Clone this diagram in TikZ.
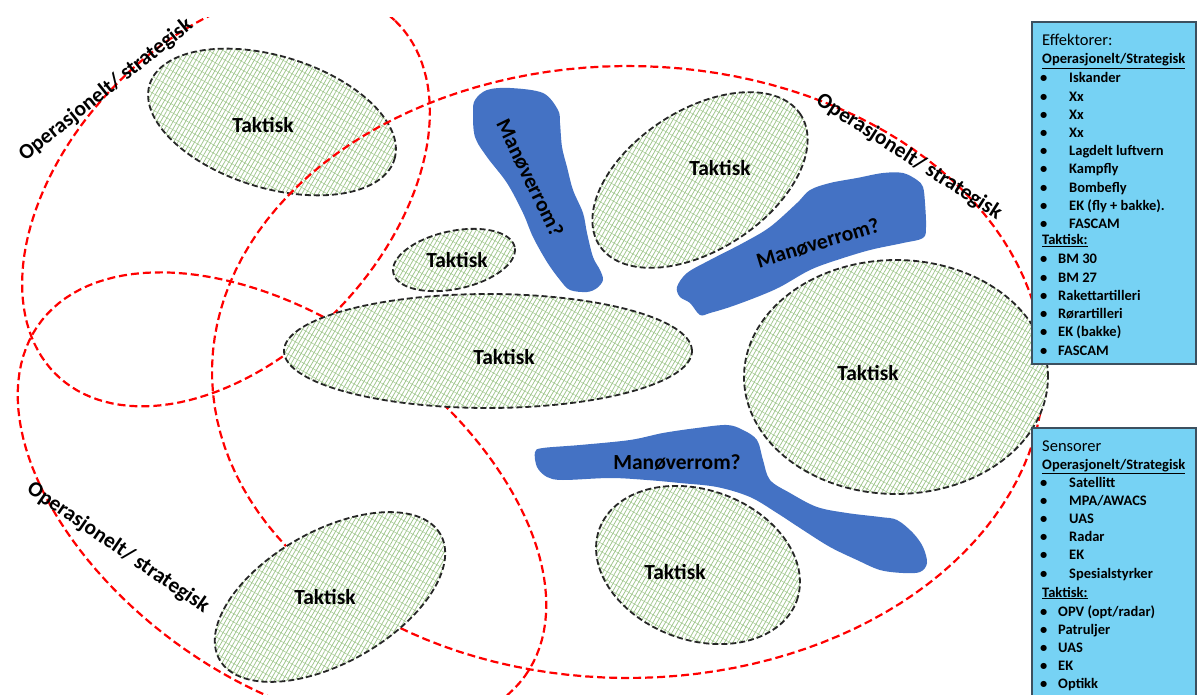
\documentclass[tikz,border=0pt]{standalone}
\usepackage{fontspec}
\setmainfont{Carlito}
\usetikzlibrary{patterns.meta}
\definecolor{patgreen}{RGB}{158,198,138}
\definecolor{blobblue}{RGB}{68,114,196}
\definecolor{boxblue}{RGB}{118,210,244}
\definecolor{boxedge}{RGB}{60,80,95}
\newcommand{\tellipse}[6]{%
  \path[#6] plot[domain=0:360,samples=140,variable=\ang] ({#1+(#3)*cos(\ang)*cos(#5)-(#4)*sin(\ang)*sin(#5)},{#2-(#3)*cos(\ang)*sin(#5)-(#4)*sin(\ang)*cos(#5)}) -- cycle;}
\tikzset{
  redell/.style={draw=red, line width=2.2pt, dash pattern=on 8pt off 4pt},
  tak/.style={preaction={fill=white},
    preaction={pattern={Lines[angle=60,distance=3.6pt,line width=0.75pt]}, pattern color=patgreen},
    preaction={pattern={Lines[angle=-30,distance=7.2pt,line width=0.45pt]}, pattern color=patgreen},
    draw=black!85, line width=1.8pt, dash pattern=on 6pt off 3pt},
  lbl/.style={font=\fontsize{21.5}{24}\selectfont\bfseries, inner sep=0pt},
  blob/.style={fill=blobblue},
  boxtxt/.style={font=\fontsize{14.5}{17}\selectfont\bfseries, anchor=base west, inner sep=0pt},
  boxhead/.style={font=\fontsize{16.5}{19}\selectfont, anchor=base west, inner sep=0pt},
  infobox/.style={draw=boxedge, fill=boxblue, line width=1.2pt}
}
\begin{document}
\begin{tikzpicture}[x=1pt,y=-1pt]
\useasboundingbox (0,0) rectangle (1197,695);
\fill[white] (0,0) rectangle (1197,695);

% top-left tactical area (under the red lines)
\tellipse{272}{122}{128}{66}{-17}{tak}

% operational / strategic areas
\begin{scope}
  \clip (0,18) rectangle (1197,695);
  \tellipse{226}{198}{245}{158}{46.5}{redell}
  \tellipse{282}{500}{300}{178}{-36}{redell}
  \tellipse{628}{372}{416}{306}{0}{redell}
\end{scope}

% other tactical areas
\tellipse{454}{260}{62}{29}{12}{tak}
\tellipse{488}{351}{204}{57}{0}{tak}
\tellipse{700}{180}{120}{70}{33}{tak}
\tellipse{896}{377}{152}{117}{0}{tak}
\tellipse{698}{565}{105}{75}{-20}{tak}
\tellipse{330}{597}{127}{66}{29.5}{tak}

% manoeuvre spaces
\fill[blob] plot[smooth cycle, tension=0.55] coordinates {(475,100) (487,90) (510,88) (543,93) (558,110) (560,123) (562,147) (567,167) (573,190) (583,213) (587,233) (593,257) (600,270) (603,280) (597,288) (587,292) (570,290) (560,280) (547,262) (533,237) (523,213) (507,183) (487,157) (475,137) (473,113)};
\fill[blob] plot[smooth cycle, tension=0.55] coordinates {(677,287) (687,273) (710,260) (743,243) (770,227) (797,203) (810,190) (830,183) (857,178) (883,173) (903,173) (917,180) (923,187) (925,203) (926,227) (923,238) (903,243) (870,250) (837,260) (810,270) (780,287) (757,297) (730,307) (710,313) (700,315) (690,303) (680,297)};
\fill[blob] plot[smooth cycle, tension=0.55] coordinates {(535,452) (543,448) (580,445) (630,440) (663,433) (697,428) (727,425) (743,430) (757,440) (763,460) (770,480) (790,493) (817,507) (847,513) (880,517) (897,520) (913,533) (923,547) (927,563) (920,572) (903,573) (880,570) (857,560) (830,547) (803,530) (777,513) (750,497) (717,487) (680,483) (647,480) (610,478) (563,480) (547,477) (537,467)};

% labels
\node[lbl] (t1) at (263,125) {Taktisk};
\node[lbl] (t2) at (457,260) {Taktisk};
\node[lbl] (t3) at (504,357) {Taktisk};
\node[lbl] (t4) at (720,168) {Taktisk};
\node[lbl] (t5) at (868,373) {Taktisk};
\node[lbl] (t6) at (675,572) {Taktisk};
\node[lbl] (t7) at (325,597) {Taktisk};
\node[lbl, rotate=-64] (m1) at (530,178) {Manøverrom?};
\node[lbl, rotate=17] (m2) at (818,243) {Manøverrom?};
\node[lbl] (m3) at (677,462) {Manøverrom?};
\node[lbl, rotate=38.5] (os1) at (106,90) {Operasjonelt/ strategisk};
\node[lbl, rotate=-34.4] (os2) at (118,548) {Operasjonelt/ strategisk};
\node[lbl, rotate=-32.5] (os3) at (909,157) {Operasjonelt/ strategisk};

% effectors box
\draw[infobox] (1032,22) rectangle (1196,364);
\node[boxhead] (eh) at (1042,46) {Effektorer:};
\node[boxtxt] (eo) at (1042,64) {\underline{Operasjonelt/Strategisk}};
\foreach \itm [count=\i from 0] in {Iskander,Xx,Xx,Xx,Lagdelt luftvern,Kampfly,Bombefly,EK (fly + bakke).,FASCAM}{
  \node[boxtxt] (eb\i) at (1040,{83+18.2*\i}) {\textbullet};
  \node[boxtxt] (es\i) at (1069,{83+18.2*\i}) {\itm};
}
\node[boxtxt] (et) at (1042,245) {\underline{Taktisk:}};
\foreach \itm [count=\i from 0] in {BM 30,BM 27,Rakettartilleri,Rørartilleri,EK (bakke),FASCAM}{
  \node[boxtxt] (ec\i) at (1040,{264+18.2*\i}) {\textbullet};
  \node[boxtxt] (et\i) at (1058,{264+18.2*\i}) {\itm};
}

% sensors box
\draw[infobox] (1032,428) rectangle (1196,702);
\node[boxhead] (sh) at (1042,451) {Sensorer};
\node[boxtxt] (so) at (1042,469) {\underline{Operasjonelt/Strategisk}};
\foreach \itm [count=\i from 0] in {Satellitt,MPA/AWACS,UAS,Radar,EK,Spesialstyrker}{
  \node[boxtxt] (sb\i) at (1040,{487+18.2*\i}) {\textbullet};
  \node[boxtxt] (ss\i) at (1069,{487+18.2*\i}) {\itm};
}
\node[boxtxt] (st) at (1042,597) {\underline{Taktisk:}};
\foreach \itm [count=\i from 0] in {OPV (opt/radar),Patruljer,UAS,EK,Optikk}{
  \node[boxtxt] (sc\i) at (1040,{616+18.2*\i}) {\textbullet};
  \node[boxtxt] (st\i) at (1058,{616+18.2*\i}) {\itm};
}
\end{tikzpicture}
\end{document}
